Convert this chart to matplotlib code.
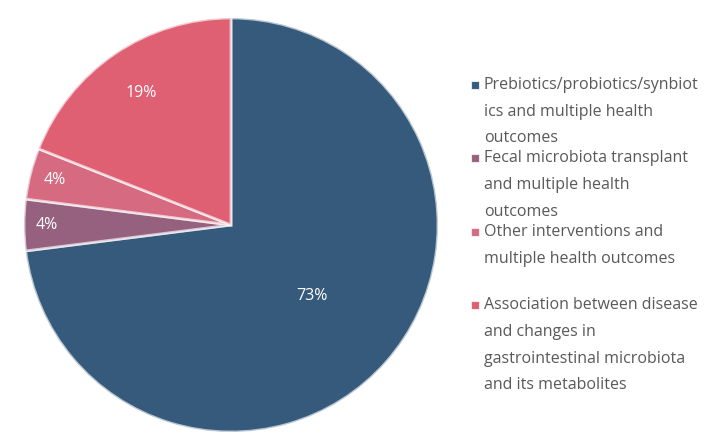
import matplotlib.pyplot as plt
import numpy as np
from matplotlib.patches import Rectangle

categories = [
    "Prebiotics/probiotics/synbiot\nics and multiple health\noutcomes",
    "Fecal microbiota transplant\nand multiple health\noutcomes",
    "Other interventions and\nmultiple health outcomes\n",
    "Association between disease\nand changes in\ngastrointestinal microbiota\nand its metabolites",
]
shares = [73, 4, 4, 19]
colors = ["#365a7b", "#96607f", "#d56a81", "#df6072"]
label_radius = [0.52, 0.89, 0.88, 0.77]

plt.rcParams['font.family'] = ['Open Sans', 'DejaVu Sans']

W, H = 724, 448
fig = plt.figure(figsize=(W / 100, H / 100), dpi=100)
cx, cy, r = 231, 225, 207
ax = fig.add_axes([(cx - r) / W, (H - cy - r) / H, 2 * r / W, 2 * r / H])

wedges, texts, autotexts = ax.pie(
    shares, colors=colors, startangle=90, counterclock=False,
    autopct='%1.0f%%', pctdistance=0.7,
    wedgeprops=dict(edgecolor=(1, 1, 1, 0.65), linewidth=2),
    textprops=dict(color='white', fontsize=11.5))
ax.set_xlim(-1, 1)
ax.set_ylim(-1, 1)
ax.set_aspect('equal')

for w, t, rr in zip(wedges, autotexts, label_radius):
    mid = np.deg2rad((w.theta1 + w.theta2) / 2)
    t.set_position((rr * np.cos(mid), rr * np.sin(mid)))
    t.set_ha('center')
    t.set_va('center')

# legend drawn by hand so the marker sits on the first line
x_mark, x_text = 471, 484
line_h, entry_gap = 26.7, 20
y = 85
for label, c in zip(categories, colors):
    lines = label.split('\n')
    fig.add_artist(Rectangle((x_mark / W, 1 - (y + 4) / H), 8 / W, 8 / H,
                             transform=fig.transFigure, facecolor=c,
                             edgecolor=(1, 1, 1, 0.7), linewidth=0.8))
    for i, ln in enumerate(lines):
        fig.text(x_text / W, 1 - (y + i * line_h) / H, ln, fontsize=11.5,
                 color='#595959', ha='left', va='center')
    y += (len(lines) - 1) * line_h + entry_gap

fig.savefig('out.png', dpi=100)
